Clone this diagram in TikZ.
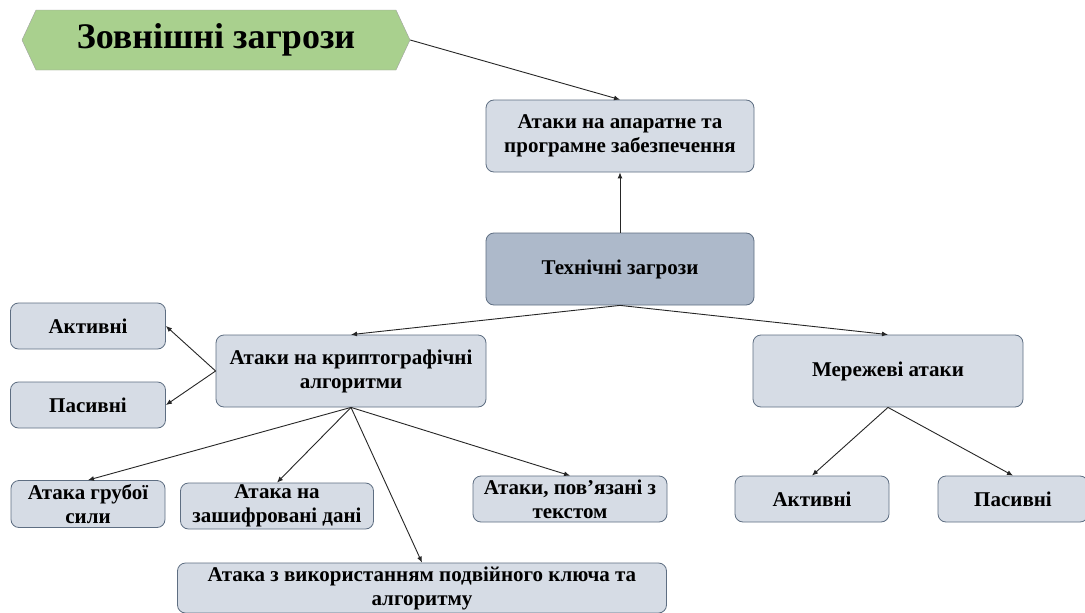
\documentclass[tikz,border=0pt]{standalone}
\usepackage{fontspec}
\setmainfont{Liberation Serif}
\usepackage{tikz}
\usetikzlibrary{arrows.meta,positioning,shapes.symbols}

\definecolor{boxfill}{HTML}{D6DCE5}
\definecolor{boxdraw}{HTML}{5E6E82}
\definecolor{techfill}{HTML}{ADB9CA}
\definecolor{extfill}{HTML}{A9D08E}
\definecolor{extdraw}{HTML}{A0A0A0}
\definecolor{linecol}{HTML}{262626}

\begin{document}
\begin{tikzpicture}[
    x=1pt, y=-1pt,
    threat/.style={
        draw=boxdraw,
        fill=boxfill,
        rounded corners=8pt,
        align=center,
        inner sep=1pt,
        line width=0.8pt,
        font=\fontsize{21}{24}\selectfont\bfseries
    },
    maintheat/.style={threat, fill=techfill},
    outer/.style={
        signal, signal to=west and east,
        signal pointer angle=130,
        draw=extdraw, fill=extfill,
        inner sep=0pt,
        font=\fontsize{36}{40}\selectfont\bfseries
    },
    arrow/.style={-{Latex[length=6pt,width=5pt]}, draw=linecol, line width=0.9pt}
]
\clip (0,0) rectangle (1085,613);
\fill[white] (0,0) rectangle (1085,613);

\node[outer, minimum width=388pt, minimum height=60pt] (ext) at (216,40) {Зовнішні загрози};

\node[threat, minimum width=268pt, minimum height=72pt] (hw) at (620,136) {Атаки на апаратне та\\програмне забезпечення};
\node[maintheat, minimum width=268pt, minimum height=72pt] (tech) at (620,269) {Технічні загрози};
\node[threat, minimum width=270pt, minimum height=72pt] (crypt) at (351,371) {Атаки на криптографічні\\алгоритми};
\node[threat, minimum width=270pt, minimum height=72pt] (net) at (888,371) {Мережеві атаки};

% left branch of cryptographic attacks
\node[threat, minimum width=155pt, minimum height=46pt] (cact) at (88,326) {Активні};
\node[threat, minimum width=155pt, minimum height=46pt] (cpas) at (88,405) {Пасивні};

% children below
\node[threat, minimum width=154pt, minimum height=47pt] (brute) at (88,504) {Атака грубої\\сили};
\node[threat, minimum width=193pt, minimum height=46pt] (encdata) at (277,506) {Атака на\\зашифровані дані};
\node[threat, minimum width=194pt, minimum height=46pt] (plain) at (570,499) {Атаки, пов’язані з\\текстом};
\node[threat, minimum width=489pt, minimum height=50pt] (dual) at (422,588) {Атака з використанням подвійного ключа та\\алгоритму};

\node[threat, minimum width=154pt, minimum height=46pt] (nact) at (812,499) {Активні};
\node[threat, minimum width=150pt, minimum height=46pt] (npas) at (1013,499) {Пасивні};

\draw[arrow] (ext.east) -- (hw.north);
\draw[arrow] (tech.north) -- (hw.south);
\draw[arrow] (tech.south) -- (crypt.north);
\draw[arrow] (tech.south) -- (net.north);

\draw[arrow] (crypt.west) -- (cact.east);
\draw[arrow] (crypt.west) -- (cpas.east);

\draw[arrow] (crypt.south) -- (brute.north);
\draw[arrow] (crypt.south) -- (encdata.north);
\draw[arrow] (crypt.south) -- (plain.north);
\draw[arrow] (crypt.south) -- (dual.north);

\draw[arrow] (net.south) -- (nact.north);
\draw[arrow] (net.south) -- (npas.north);
\end{tikzpicture}
\end{document}
